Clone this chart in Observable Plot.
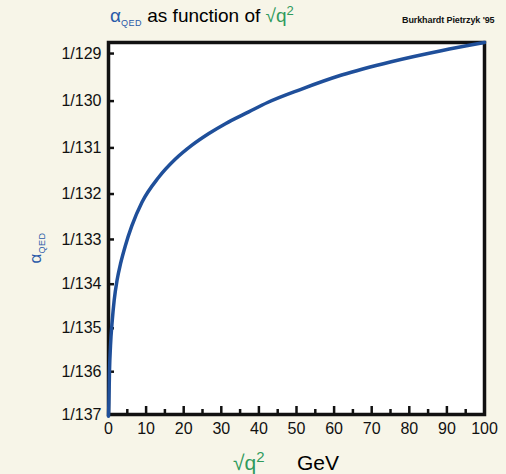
<!DOCTYPE html>
<html><head><meta charset="utf-8">
<script src="https://cdn.jsdelivr.net/npm/d3@7"></script>
<script src="https://cdn.jsdelivr.net/npm/@observablehq/plot@0.6"></script>
<style>
body{margin:0;background:#f7f5e8;}
#wrap{position:relative;width:506px;height:474px;background:#f7f5e8;font-family:"Liberation Sans",Arial,sans-serif;overflow:hidden}
#chart{position:absolute;left:0;top:0}
.t{position:absolute;white-space:nowrap;line-height:1}
.blue{color:#2a5aa8}
.green{color:#2f9a5c}
.qed{font-size:9px;letter-spacing:0.5px;vertical-align:-4px}
</style></head><body>
<div id="wrap">
<div id="chart"></div>
<div class="t" id="title" style="left:110px;top:6px;font-size:19px;"><span class="blue">α<span class="qed">QED</span></span> as function of <span class="green">√q<sup style="font-size:13px;vertical-align:7px;line-height:0">2</sup></span></div>
<div class="t" id="credit" style="left:402px;top:16px;font-size:9px;font-weight:bold;color:#111;letter-spacing:-0.1px">Burkhardt Pietrzyk '95</div>
<div class="t" id="ylab" style="left:22px;top:238px;font-size:17px;transform:rotate(-90deg);transform-origin:center"><span class="blue">α<span class="qed">QED</span></span></div>
<div class="t" id="xlab1" style="left:233px;top:452px;font-size:21px;"><span class="green">√q<sup style="font-size:15px;vertical-align:8px;line-height:0">2</sup></span></div>
<div class="t" id="xlab2" style="left:297px;top:452px;font-size:21px;">GeV</div>
</div>
<script>
// sqrt(q^2) in GeV and the inverse coupling 1/alpha_QED
const energyGeV    = [0, 0.1, 0.27, 0.53, 1.0, 1.5, 2.3, 3.2, 4.44, 6.2, 8.9, 13.3, 17.8, 22.2, 26.7, 31.1, 37.3, 42.3, 51.2, 62, 75.2, 88.5, 100];
const inverseAlpha = [137.04, 136.74, 135.97, 135.40, 134.82, 134.37, 133.90, 133.54, 133.15, 132.70, 132.18, 131.64, 131.24, 130.94, 130.69, 130.48, 130.23, 130.03, 129.75, 129.45, 129.17, 128.94, 128.77];
const yTickInverse = [129, 130, 131, 132, 133, 134, 135, 136, 137];
const xMajorTicks  = [0, 10, 20, 30, 40, 50, 60, 70, 80, 90, 100];
const xMinorTicks  = [5, 15, 25, 35, 45, 55, 65, 75, 85, 95];

const data = energyGeV.map((e, i) => ({e, inv: inverseAlpha[i]}));

const W = 506, H = 474, mL = 108, mR = 22, mT = 42, mB = 60;
const plotW = W - mL - mR, plotH = H - mT - mB;

const chart = Plot.plot({
  width: W, height: H,
  marginLeft: mL, marginRight: mR, marginTop: mT, marginBottom: mB,
  style: {background: "transparent", fontFamily: "Liberation Sans, Arial, sans-serif", fontSize: "16px", color: "#111"},
  x: {domain: [0, 100]},
  y: {domain: [1 / 137, 1 / 128.77]},
  marks: [
    Plot.frame({fill: "white"}),
    Plot.tickY(yTickInverse, {y: d => 1 / d, stroke: "#111", strokeWidth: 2.5, insetRight: plotW - 6}),
    Plot.tickX(xMajorTicks, {x: d => d, stroke: "#111", strokeWidth: 2.5, insetTop: plotH - 8}),
    Plot.tickX(xMinorTicks, {x: d => d, stroke: "#111", strokeWidth: 2.5, insetTop: plotH - 5}),
    Plot.frame({stroke: "#111", strokeWidth: 3.5}),
    Plot.line(data, {x: "e", y: d => 1 / d.inv, stroke: "#1f4f9a", strokeWidth: 3.5, curve: "monotone-x"}),
    Plot.axisX({ticks: xMajorTicks, tickSize: 0, tickPadding: 8, label: null, fontSize: 16}),
    Plot.axisY({ticks: yTickInverse.map(v => 1 / v), tickFormat: d => "1/" + Math.round(1 / d), tickSize: 0, tickPadding: 7, label: null, fontSize: 16})
  ]
});
document.getElementById("chart").appendChild(chart);
</script>
</body></html>
